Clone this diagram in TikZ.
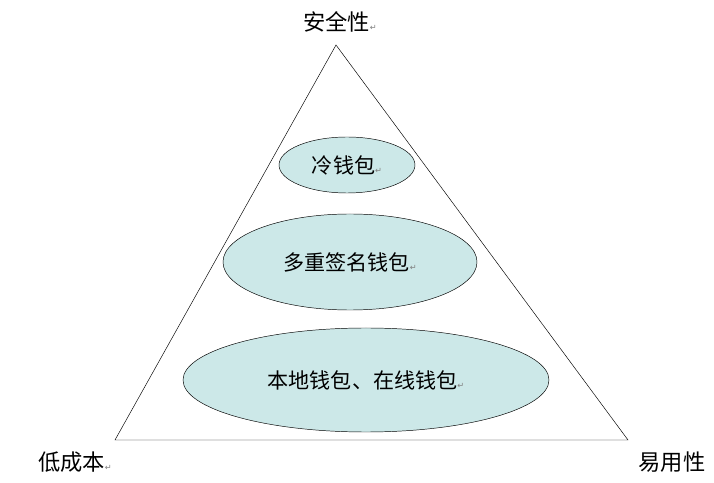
\documentclass[tikz,border=0pt]{standalone}
\usepackage{fontspec}
\newfontfamily\cjk{Noto Sans CJK SC}
\newfontfamily\symfont{DejaVu Sans}
\usetikzlibrary{shapes.geometric}
\definecolor{wallet}{RGB}{204,232,232}
\tikzset{
  walletnode/.style={ellipse, draw, fill=wallet, font=\cjk\fontsize{18}{22}\selectfont, inner sep=0pt},
  cornerlabel/.style={font=\cjk\fontsize{19}{23}\selectfont}
}
\newcommand{\parmark}{{\symfont\fontsize{7}{8}\selectfont\textcolor{gray}{↵}}}
\begin{document}
\begin{tikzpicture}[x=0.03cm,y=-0.03cm]
  \useasboundingbox (0,0) rectangle (714,483);
  % triangle corners
  \coordinate (top) at (336,45);
  \coordinate (left) at (115,440);
  \coordinate (right) at (628,440);
  \draw (top) -- (left) -- (right) -- cycle;
  % wallets
  \node[walletnode, minimum width=4.08cm, minimum height=1.68cm] (cold) at (347,165) {冷钱包\parmark};
  \node[walletnode, minimum width=7.62cm, minimum height=2.88cm] (multisig) at (350,262) {多重签名钱包\parmark};
  \node[walletnode, minimum width=10.98cm, minimum height=3.12cm] (hot) at (366,380) {本地钱包、在线钱包\parmark};
  % labels
  \node[cornerlabel] (safety) at (340,22) {安全性\parmark};
  \node[cornerlabel] (cost) at (75,462) {低成本\parmark};
  \node[cornerlabel] (ease) at (672,462) {易用性};
\end{tikzpicture}
\end{document}
